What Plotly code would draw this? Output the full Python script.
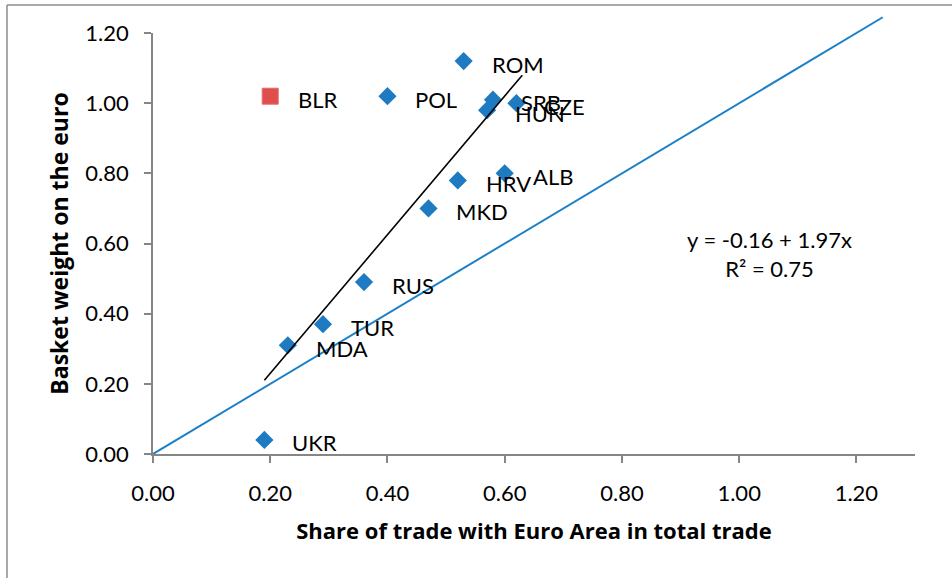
import plotly.graph_objects as go

# ---- data ----
countries = ["ROM", "POL", "SRB", "HUN", "CZE", "ALB", "HRV", "MKD", "RUS", "TUR", "MDA", "UKR"]
trade_share = [0.53, 0.40, 0.58, 0.57, 0.62, 0.60, 0.52, 0.47, 0.36, 0.29, 0.23, 0.19]
euro_weight = [1.12, 1.02, 1.01, 0.98, 1.00, 0.80, 0.78, 0.70, 0.49, 0.37, 0.31, 0.04]

outlier_name = ["BLR"]
outlier_share = [0.20]
outlier_weight = [1.02]

fit_x = [0.19, 0.63]
fit_y = [0.21, 1.08]

diag_x = [0.0, 1.245]
diag_y = [0.0, 1.245]

tick_vals = [0.0, 0.2, 0.4, 0.6, 0.8, 1.0, 1.2]
tick_text = ["0.00", "0.20", "0.40", "0.60", "0.80", "1.00", "1.20"]

equation = "y = -0.16 + 1.97x<br>R² = 0.75"

FONT = "Lato"
TFONT = "Open Sans"
AX = "#868686"
BLUE = "#1F7BC1"
RED = "#DF4D4D"

fig = go.Figure()

# 45-degree line (on a taller invisible subplot so it can run above 1.20)
fig.add_trace(go.Scatter(x=diag_x, y=diag_y, mode="lines",
                         line=dict(color="#1C80C8", width=2),
                         xaxis="x2", yaxis="y2", hoverinfo="skip"))

fig.add_trace(go.Scatter(x=trade_share, y=euro_weight, mode="markers",
                         marker=dict(symbol="diamond", size=14, color=BLUE),
                         text=countries))
fig.add_trace(go.Scatter(x=outlier_share, y=outlier_weight, mode="markers",
                         marker=dict(symbol="square", size=16, color=RED,
                                     line=dict(color="#E86A6A", width=1)),
                         text=outlier_name))
fig.add_trace(go.Scatter(x=fit_x, y=fit_y, mode="lines",
                         line=dict(color="black", width=1.6), hoverinfo="skip"))

ann = []
for n, x, y in zip(countries + outlier_name, trade_share + outlier_share,
                   euro_weight + outlier_weight):
    ann.append(dict(x=x, y=y, xref="x", yref="y", text=n, showarrow=False,
                    xanchor="left", yanchor="middle", xshift=26, yshift=-3,
                    font=dict(family=FONT, size=22, color="black")))
ann.append(dict(x=1.051, y=0.57, xref="x", yref="y", text=equation,
                showarrow=False, align="center", xanchor="center", yanchor="middle",
                font=dict(family=FONT, size=22, color="black")))

axis_common = dict(showline=True, linecolor=AX, linewidth=1.5, ticks="outside",
                   ticklen=7, tickwidth=1.5, tickcolor=AX, showgrid=False,
                   zeroline=False, tickvals=tick_vals, ticktext=tick_text,
                   automargin=False,
                   tickfont=dict(family=FONT, size=22, color="black"))

fig.update_layout(
    width=952, height=578,
    margin=dict(l=153, r=37, t=12, b=124, autoexpand=False),
    paper_bgcolor="white", plot_bgcolor="rgba(0,0,0,0)",
    showlegend=False,
    font=dict(family=FONT, color="black"),
    xaxis=dict(range=[0, 1.3], domain=[0, 1], anchor="y",
               title=dict(text="<b>Share of trade with Euro Area in total trade</b>",
                          font=dict(family=TFONT, size=22), standoff=18),
               ticklabelstandoff=12, **axis_common),
    yaxis=dict(range=[0, 1.2], domain=[0, 1.2 / 1.26], anchor="x",
               title=dict(text="<b>Basket weight on the euro</b>",
                          font=dict(family=TFONT, size=23), standoff=10),
               ticklabelstandoff=11, **axis_common),
    xaxis2=dict(range=[0, 1.3], domain=[0, 1], anchor="y2", visible=False),
    yaxis2=dict(range=[0, 1.26], domain=[0, 1], anchor="x2", visible=False),
    annotations=ann,
    shapes=[
        dict(type="line", xref="paper", yref="paper", x0=-0.1916, x1=-0.1916,
             y0=1.0158, y1=-0.3, line=dict(color="#8c8c8c", width=1.5)),
        dict(type="line", xref="paper", yref="paper", x0=-0.1916, x1=1.1,
             y0=1.0158, y1=1.0158, line=dict(color="#8c8c8c", width=1.5)),
    ],
)

fig.write_html("out.html", config={"displayModeBar": False},
               post_script="document.body.style.margin='0';")
